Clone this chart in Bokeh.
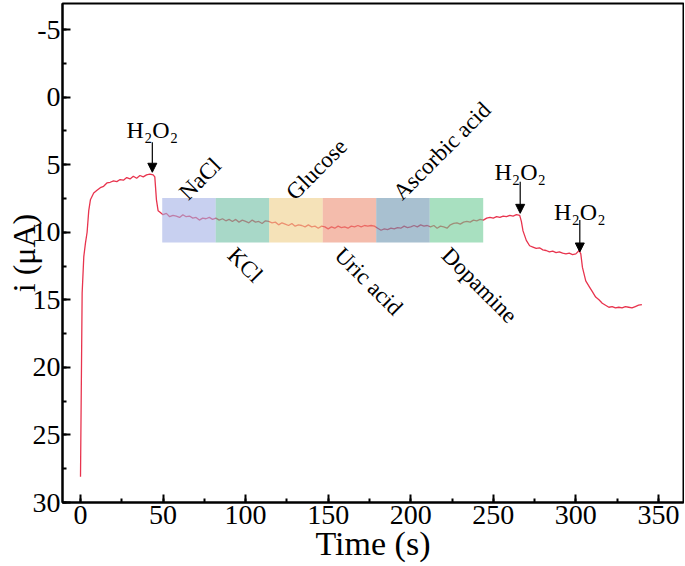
from math import pi
from bokeh.plotting import figure
from bokeh.models import Range1d, SingleIntervalTicker, Label, Arrow, NormalHead
from bokeh.embed import file_html
from bokeh.resources import INLINE

# ---------------- data ----------------
time_s = [0, 1, 2, 3, 4, 5, 6, 8, 10, 12, 14, 16, 18, 20, 22, 24, 26, 28, 30, 32,
          34, 36, 38, 40, 42, 44, 45, 46, 47, 48, 50, 52, 54, 56, 58, 60, 62, 64, 66,
          68, 70, 72, 74, 76, 78, 80, 82, 84, 86, 88, 90, 92, 94, 96, 98, 100, 102,
          104, 106, 108, 110, 112, 114, 116, 118, 120, 122, 124, 126, 128, 130, 132,
          134, 136, 138, 140, 142, 144, 146, 148, 150, 152, 154, 156, 158, 160, 162,
          164, 166, 168, 170, 172, 174, 176, 178, 180, 182, 184, 186, 188, 190, 192,
          194, 196, 198, 200, 202, 204, 206, 208, 210, 212, 214, 216, 218, 220, 222,
          224, 226, 228, 230, 232, 234, 236, 238, 240, 242, 244, 246, 248, 250, 252,
          254, 256, 258, 260, 262, 264, 266, 267, 268, 270, 272, 274, 276, 278, 280,
          282, 284, 286, 288, 290, 292, 294, 296, 298, 300, 302, 303, 304, 306, 308,
          310, 312, 314, 316, 318, 320, 322, 324, 326, 328, 330, 332, 334, 336, 338,
          340]
current_uA = [28.1, 14.5, 11.8, 10.8, 10.0, 8.4, 7.6, 7.1, 6.9, 6.7, 6.6, 6.35, 6.3,
              6.2, 6.25, 6.1, 6.15, 5.95, 6.05, 5.85, 6.0, 5.8, 5.9, 5.75, 5.7, 5.75,
              5.9, 7.6, 8.4, 8.5, 8.7, 8.6, 8.85, 8.75, 8.8, 8.9, 8.7, 8.85, 8.8, 8.95,
              8.9, 9.1, 8.95, 9.0, 8.9, 9.05, 8.95, 9.1, 9.0, 9.15, 9.05, 9.2, 9.05,
              9.25, 9.1, 9.2, 9.3, 9.1, 9.25, 9.2, 9.35, 9.15, 9.2, 9.3, 9.25, 9.45,
              9.3, 9.4, 9.5, 9.35, 9.55, 9.45, 9.5, 9.6, 9.45, 9.6, 9.55, 9.7, 9.55,
              9.6, 9.75, 9.6, 9.7, 9.55, 9.65, 9.6, 9.7, 9.55, 9.6, 9.5, 9.6, 9.5,
              9.55, 9.5, 9.55, 9.7, 9.85, 9.75, 9.8, 9.7, 9.75, 9.65, 9.7, 9.55, 9.65,
              9.6, 9.5, 9.6, 9.45, 9.55, 9.5, 9.6, 9.5, 9.7, 9.55, 9.6, 9.7, 9.45,
              9.35, 9.3, 9.4, 9.25, 9.2, 9.25, 9.1, 9.15, 9.05, 9.1, 8.95, 8.9, 8.95,
              8.85, 8.9, 8.8, 8.85, 8.75, 8.8, 8.7, 8.75, 9.2, 9.9, 10.6, 11.0, 11.1,
              11.2, 11.15, 11.3, 11.35, 11.45, 11.4, 11.5, 11.45, 11.55, 11.6, 11.55,
              11.65, 11.6, 11.35, 11.6, 12.6, 13.6, 14.0, 14.4, 14.8, 15.0, 15.25,
              15.4, 15.55, 15.5, 15.6, 15.55, 15.6, 15.5, 15.55, 15.6, 15.5, 15.4,
              15.35]

interferents = ["NaCl", "KCl", "Glucose", "Uric acid", "Ascorbic acid", "Dopamine"]
box_left = [49.5, 81.9, 114.3, 146.7, 179.1, 211.5]
box_right = [81.9, 114.3, 146.7, 179.1, 211.5, 243.9]
box_top = [7.46] * 6
box_bottom = [10.76] * 6
box_colors = ["#a3b1e6", "#6ebea3", "#eecf89", "#ed8f75", "#6e96b1", "#6ecb96"]
label_above = [True, False, True, False, True, False]

h2o2_x = [43.5, 266.3, 302.4]
h2o2_arrow_start = [3.33, 6.27, 9.1]
h2o2_arrow_end = [5.56, 8.6, 11.46]
h2o2_label_y = [2.44, 5.53, 8.49]

x_ticks = [0, 50, 100, 150, 200, 250, 300, 350]
x_tick_labels = ["0", "50", "100", "150", "200", "250", "300", "350"]
y_ticks = [-5, 0, 5, 10, 15, 20, 25, 30]
y_tick_labels = ["-5", "0", "5", "10", "15", "20", "25", "30"]

FONT = "Liberation Serif"

p = figure(width=684, height=565, output_backend="svg", toolbar_location=None,
           x_range=Range1d(-10.9, 365.2), y_range=Range1d(30, -6.93),
           min_border_left=62, min_border_right=1, min_border_top=3,
           min_border_bottom=63)
p.background_fill_color = "white"
p.border_fill_color = "white"
p.xgrid.grid_line_color = None
p.ygrid.grid_line_color = None
p.outline_line_color = "black"
p.outline_line_width = 2
p.outline_line_alpha = 1.0

p.xaxis.ticker = SingleIntervalTicker(interval=50, num_minor_ticks=2)
p.yaxis.ticker = SingleIntervalTicker(interval=5, num_minor_ticks=2)
p.xaxis.major_label_overrides = {t: s for t, s in zip(x_ticks, x_tick_labels)}
p.yaxis.major_label_overrides = {t: s for t, s in zip(y_ticks, y_tick_labels)}
for ax in (p.xaxis, p.yaxis):
    ax.axis_line_color = "black"
    ax.axis_line_width = 2
    ax.major_tick_line_color = "black"
    ax.major_tick_line_width = 2
    ax.minor_tick_line_color = "black"
    ax.minor_tick_line_width = 2
    ax.major_tick_in = 8
    ax.major_tick_out = 0
    ax.minor_tick_in = 4
    ax.minor_tick_out = 0
    ax.major_label_text_font = FONT
    ax.major_label_text_font_size = "28px"
    ax.major_label_text_color = "black"
    ax.axis_label_text_font = FONT
    ax.axis_label_text_font_style = "normal"
    ax.axis_label_text_color = "black"
p.xaxis.major_label_standoff = 3
p.yaxis.major_label_standoff = 2
p.xaxis.axis_label = "Time (s)"
p.xaxis.axis_label_text_font_size = "34px"
p.xaxis.axis_label_standoff = -2
p.yaxis.axis_label = "i (\u03bcA)"
p.yaxis.axis_label_text_font_size = "32px"
p.yaxis.axis_label_standoff = -12

# current trace
p.line(time_s, current_uA, line_color="#e8344e", line_width=1.3)

# interferent boxes (semi-transparent over the trace)
p.quad(left=box_left, right=box_right, top=box_top, bottom=box_bottom,
       fill_color=box_colors, fill_alpha=0.6, line_color=None)

for i, name in enumerate(interferents):
    if label_above[i]:
        p.add_layout(Label(x=box_left[i] + 12.5, y=box_top[i] - 0.15, text=name,
                           angle=pi / 4, text_align="left",
                           text_baseline="alphabetic", text_font=FONT,
                           text_font_size="23px", text_color="black"))
    else:
        p.add_layout(Label(x=box_left[i] + 15.0, y=box_bottom[i] + 0.0, text=name,
                           angle=-pi / 4, text_align="left", text_baseline="top",
                           text_font=FONT, text_font_size="23px",
                           text_color="black"))

# H2O2 injections
for i in range(len(h2o2_x)):
    p.add_layout(Arrow(x_start=h2o2_x[i], y_start=h2o2_arrow_start[i],
                       x_end=h2o2_x[i], y_end=h2o2_arrow_end[i],
                       line_color="black", line_width=1.2,
                       end=NormalHead(size=9, fill_color="black",
                                      line_color="black", line_width=1)))
    p.add_layout(Label(x=h2o2_x[i], y=h2o2_label_y[i], text="H\u2082O\u2082",
                       text_align="center", text_baseline="alphabetic",
                       text_font=FONT, text_font_size="24px", text_color="black"))

open("out.html", "w").write(file_html(p, INLINE))
